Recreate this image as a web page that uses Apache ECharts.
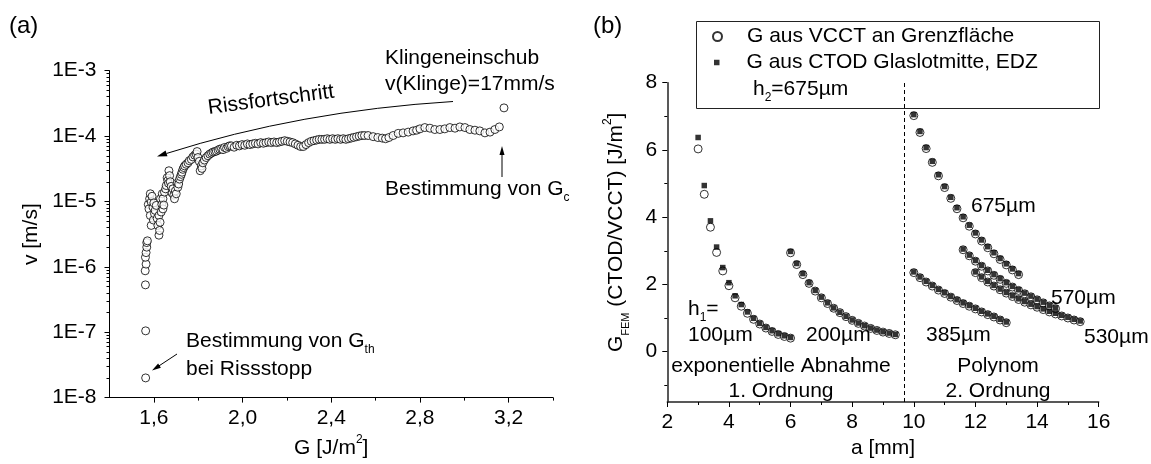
<!DOCTYPE html>
<html>
<head>
<meta charset="utf-8">
<script src="https://cdn.jsdelivr.net/npm/echarts@6/dist/echarts.min.js"></script>
<style>
  html, body { margin: 0; padding: 0; background: #fff; }
  #chart { width: 1151px; height: 464px; }
</style>
</head>
<body>
<div id="chart"></div>
<script>
// ---------- Panel (a): crack velocity v over energy release rate G ----------
const gRate = [
  1.563, 1.563, 1.562, 1.561, 1.565, 1.562, 1.565, 1.568, 1.568, 1.571,
  1.575, 1.578, 1.581, 1.584, 1.584, 1.588, 1.588, 1.592, 1.596, 1.598,
  1.600, 1.603, 1.606, 1.611, 1.615, 1.618, 1.623, 1.623, 1.626, 1.628,
  1.630, 1.633, 1.636, 1.638, 1.641, 1.641, 1.645, 1.648, 1.653, 1.656,
  1.660, 1.663, 1.666, 1.668, 1.671, 1.674, 1.678, 1.682, 1.686, 1.690,
  1.693, 1.697, 1.701, 1.705, 1.708, 1.712, 1.716, 1.720, 1.724, 1.727,
  1.731, 1.735, 1.739, 1.746, 1.754, 1.760, 1.769, 1.776, 1.784, 1.791,
  1.795, 1.799, 1.805, 1.809, 1.814, 1.817, 1.821, 1.828, 1.836, 1.844,
  1.852, 1.860, 1.867, 1.875, 1.882, 1.890, 1.897, 1.905, 1.912, 1.919,
  1.928, 1.935, 1.942,
  1.950, 1.962, 1.974, 1.986, 1.998, 2.010, 2.022, 2.034, 2.046, 2.058,
  2.070, 2.082, 2.094, 2.106, 2.118, 2.130, 2.142, 2.154, 2.166, 2.178,
  2.190, 2.202, 2.214, 2.226, 2.238, 2.250, 2.262, 2.274, 2.286, 2.298,
  2.310, 2.322, 2.334, 2.346, 2.358, 2.370, 2.382, 2.394, 2.406, 2.418,
  2.430, 2.442, 2.454, 2.466, 2.478, 2.490, 2.502, 2.514, 2.526, 2.538,
  2.550,
  2.566, 2.589, 2.610, 2.630, 2.645, 2.660, 2.679, 2.702, 2.724, 2.747,
  2.769, 2.785, 2.800, 2.822, 2.845, 2.867, 2.890, 2.912, 2.935, 2.958,
  2.980, 3.003, 3.025, 3.048, 3.070, 3.093, 3.116, 3.138, 3.158, 3.179
];
const velocity = [
  2.0e-8, 1.05e-7, 5.3e-7, 8.7e-7, 1.1e-6, 1.4e-6, 1.65e-6, 2.0e-6, 2.35e-6, 2.5e-6,
  9.0e-6, 7.7e-6, 1.10e-5, 1.31e-5, 6.1e-6, 9.8e-6, 4.3e-6, 1.2e-5, 8.2e-6, 5.2e-6,
  9.5e-6, 6.5e-6, 7.3e-6, 8.7e-6, 5.5e-6, 4.3e-6, 6.1e-6, 3.05e-6, 3.6e-6, 4.8e-6,
  1.1e-5, 6.9e-6, 9.0e-6, 1.31e-5, 7.7e-6, 1.1e-5, 8.8e-6, 1.39e-5, 1.56e-5, 1.75e-5,
  2.3e-5, 2.08e-5, 1.9e-5, 2.95e-5, 2.48e-5, 2.0e-5, 1.7e-5, 1.35e-5, 1.56e-5, 1.25e-5,
  1.1e-5, 1.45e-5, 1.31e-5, 1.9e-5, 1.65e-5, 1.85e-5, 2.2e-5, 2.4e-5, 2.6e-5, 2.8e-5,
  3.1e-5, 3.3e-5, 3.5e-5, 3.7e-5, 3.9e-5, 4.2e-5, 4.4e-5, 4.8e-5, 5.1e-5, 5.3e-5,
  5.8e-5, 4.7e-5, 4.1e-5, 2.95e-5, 3.5e-5, 3.2e-5, 3.9e-5, 4.3e-5, 4.7e-5, 5.0e-5,
  5.3e-5, 5.5e-5, 5.7e-5, 5.8e-5, 5.9e-5, 6.1e-5, 6.3e-5, 6.4e-5, 6.2e-5, 6.7e-5,
  6.5e-5, 6.9e-5, 7.1e-5,
  7.08e-5, 6.76e-5, 7.24e-5, 7.08e-5, 7.41e-5, 7.24e-5, 7.59e-5, 7.41e-5, 7.59e-5, 7.76e-5,
  7.59e-5, 7.94e-5, 7.76e-5, 7.94e-5, 8.13e-5, 7.94e-5, 8.13e-5, 7.94e-5, 8.13e-5, 8.32e-5,
  8.51e-5, 8.32e-5, 8.13e-5, 7.94e-5, 7.59e-5, 7.24e-5, 6.92e-5, 6.92e-5, 7.41e-5, 7.94e-5,
  8.32e-5, 8.51e-5, 8.71e-5, 8.91e-5, 8.91e-5, 8.91e-5, 9.12e-5, 8.91e-5, 9.12e-5, 8.91e-5,
  9.12e-5, 8.91e-5, 9.12e-5, 8.91e-5, 9.12e-5, 9.33e-5, 9.55e-5, 9.77e-5, 1.00e-4, 1.02e-4,
  1.02e-4,
  1.02e-4, 9.8e-5, 9.5e-5, 9.3e-5, 9.1e-5, 9.5e-5, 1.02e-4, 1.10e-4, 1.12e-4, 1.15e-4,
  1.20e-4, 1.23e-4, 1.29e-4, 1.35e-4, 1.32e-4, 1.26e-4, 1.26e-4, 1.29e-4, 1.35e-4, 1.32e-4,
  1.38e-4, 1.35e-4, 1.26e-4, 1.23e-4, 1.20e-4, 1.12e-4, 1.15e-4, 1.26e-4, 1.38e-4, 2.7e-4
];

// Axis ticks, panel (a)
const gLabelTicks = [1.6, 2.0, 2.4, 2.8, 3.2];
const gMinorTicks = [1.8, 2.2, 2.6, 3.0, 3.4];
const vDecadeTicks = [1e-8, 1e-7, 1e-6, 1e-5, 1e-4, 1e-3];
const vMinorTicks = [];
for (let e = -8; e < -3; e++) {
  for (let k = 2; k <= 9; k++) vMinorTicks.push(k * Math.pow(10, e));
}

// ---------- Panel (b): G_FEM over crack length a for several layer thicknesses ----------
const aH100 = [3.0, 3.2, 3.4, 3.6, 3.8, 4.0, 4.2, 4.4, 4.6, 4.8, 5.0, 5.2, 5.4, 5.6, 5.8, 6.0];
const vcctH100 = [6.03, 4.68, 3.70, 2.95, 2.40, 1.96, 1.60, 1.35, 1.14, 0.96, 0.82, 0.70, 0.60, 0.51, 0.45, 0.40];
const ctodH100 = [6.37, 4.94, 3.89, 3.11, 2.50, 2.05, 1.66, 1.40, 1.18, 0.99, 0.84, 0.72, 0.62, 0.53, 0.47, 0.42];

const aH200 = [6.0, 6.2, 6.4, 6.6, 6.8, 7.0, 7.2, 7.4, 7.6, 7.8, 8.0, 8.2, 8.4, 8.6, 8.8, 9.0, 9.2, 9.4];
const vcctH200 = [2.94, 2.59, 2.29, 2.03, 1.80, 1.60, 1.43, 1.29, 1.16, 1.04, 0.93, 0.84, 0.76, 0.69, 0.63, 0.58, 0.54, 0.50];
const ctodH200 = [2.98, 2.62, 2.32, 2.05, 1.82, 1.62, 1.45, 1.30, 1.17, 1.05, 0.94, 0.85, 0.77, 0.70, 0.64, 0.59, 0.55, 0.51];

const aH385 = [10.0, 10.2, 10.4, 10.6, 10.8, 11.0, 11.2, 11.4, 11.6, 11.8, 12.0, 12.2, 12.4, 12.6, 12.8, 13.0];
const vcctH385 = [2.35, 2.20, 2.07, 1.95, 1.83, 1.73, 1.62, 1.52, 1.43, 1.35, 1.27, 1.18, 1.10, 1.03, 0.94, 0.86];
const ctodH385 = [2.37, 2.22, 2.09, 1.97, 1.85, 1.75, 1.64, 1.54, 1.45, 1.37, 1.29, 1.20, 1.12, 1.05, 0.96, 0.88];

const aH530 = [12.0, 12.2, 12.4, 12.6, 12.8, 13.0, 13.2, 13.4, 13.6, 13.8, 14.0, 14.2, 14.4, 14.6, 14.8, 15.0, 15.2, 15.4];
const vcctH530 = [2.35, 2.20, 2.07, 1.95, 1.84, 1.74, 1.64, 1.55, 1.47, 1.39, 1.32, 1.25, 1.18, 1.12, 1.06, 1.00, 0.94, 0.89];
const ctodH530 = [2.37, 2.22, 2.09, 1.97, 1.86, 1.76, 1.66, 1.57, 1.49, 1.41, 1.34, 1.27, 1.20, 1.14, 1.08, 1.02, 0.96, 0.91];

const aH570 = [11.6, 11.8, 12.0, 12.2, 12.4, 12.6, 12.8, 13.0, 13.2, 13.4, 13.6, 13.8, 14.0, 14.2, 14.4, 14.6];
const vcctH570 = [3.03, 2.85, 2.69, 2.54, 2.40, 2.27, 2.15, 2.03, 1.92, 1.82, 1.72, 1.63, 1.54, 1.45, 1.36, 1.28];
const ctodH570 = [3.05, 2.87, 2.71, 2.56, 2.42, 2.29, 2.17, 2.05, 1.94, 1.84, 1.74, 1.65, 1.56, 1.47, 1.38, 1.30];

const aH675 = [10.0, 10.2, 10.4, 10.6, 10.8, 11.0, 11.2, 11.4, 11.6, 11.8, 12.0, 12.2, 12.4, 12.6, 12.8, 13.0, 13.2, 13.4];
const vcctH675 = [7.02, 6.52, 6.04, 5.63, 5.23, 4.88, 4.56, 4.25, 3.98, 3.73, 3.50, 3.29, 3.09, 2.91, 2.74, 2.58, 2.43, 2.29];
const ctodH675 = [7.05, 6.55, 6.07, 5.66, 5.26, 4.91, 4.59, 4.28, 4.01, 3.76, 3.53, 3.32, 3.12, 2.94, 2.77, 2.61, 2.46, 2.32];

// boundary between the two fit regimes (mm)
const regimeBoundary = 9.7;

// Axis ticks, panel (b)
const aMinorTicks = [3, 5, 7, 9, 11, 13, 15];
const gFemLabelTicks = [0, 2, 4, 6, 8];
const gFemMinorTicks = [-1, 1, 3, 5, 7];

const NAME_VCCT = 'G aus VCCT an Grenzfläche';
const NAME_CTOD = 'G aus CTOD Glaslotmitte, EDZ';

const FONT = '"Liberation Sans", Arial, Helvetica, sans-serif';
const FS = 21;
const BLACK = '#000';

function pairs(xs, ys) { return xs.map((x, i) => [x, ys[i]]); }

const chart = echarts.init(document.getElementById('chart'), null, { renderer: 'canvas' });

const labelStyle = { color: BLACK, fontSize: FS, fontFamily: FONT };
const axisRich = {
  t: { fontSize: FS, fontFamily: FONT, color: BLACK, lineHeight: 30 },
  sup: { fontSize: 12, fontFamily: FONT, color: BLACK, verticalAlign: 'top', lineHeight: 14 },
  sub: { fontSize: 11, fontFamily: FONT, color: BLACK, verticalAlign: 'bottom', lineHeight: 12 }
};

function tickAxis(base) {
  return Object.assign({
    splitLine: { show: false },
    axisLine: { onZero: false, lineStyle: { color: BLACK, width: 1 } },
  }, base);
}

// grids (pixel layout)
const gridA = { left: 109.5, top: 70.7, width: 443.5, height: 330.5 };
const gridB = { left: 667.3, top: 82.7, width: 431.4, height: 319.6 };

const xAxes = [
  tickAxis({
    gridIndex: 0, type: 'value', min: 1.4, max: 3.4,
    axisTick: { customValues: gLabelTicks, length: 5, lineStyle: { color: BLACK } },
    axisLabel: Object.assign({ customValues: gLabelTicks, margin: 10,
      formatter: v => v.toFixed(1).replace('.', ',') }, labelStyle),
    name: '{t|G [J/m}{sup|2}{t|]}', nameLocation: 'middle', nameGap: 34,
    nameTextStyle: { rich: axisRich }
  }),
  tickAxis({
    gridIndex: 0, type: 'value', min: 1.4, max: 3.4, position: 'bottom',
    axisLine: { show: false, onZero: false },
    axisTick: { customValues: gMinorTicks, length: 3, lineStyle: { color: BLACK } },
    axisLabel: { show: false }
  }),
  tickAxis({
    gridIndex: 1, type: 'value', min: 2, max: 16, interval: 2,
    axisLine: { onZero: false, lineStyle: { color: '#222', width: 1.5 } },
    axisTick: { length: 5, lineStyle: { color: BLACK } },
    axisLabel: Object.assign({ margin: 10 }, labelStyle),
    name: 'a [mm]', nameLocation: 'middle', nameGap: 36,
    nameTextStyle: labelStyle
  }),
  tickAxis({
    gridIndex: 1, type: 'value', min: 2, max: 16, position: 'bottom',
    axisLine: { show: false, onZero: false },
    axisTick: { customValues: aMinorTicks, length: 3, lineStyle: { color: BLACK } },
    axisLabel: { show: false }
  })
];

const yAxes = [
  tickAxis({
    gridIndex: 0, type: 'log', logBase: 10, min: 1e-8, max: 1e-3, position: 'left',
    axisTick: { customValues: vDecadeTicks, length: 5, lineStyle: { color: BLACK } },
    axisLabel: Object.assign({ customValues: vDecadeTicks, margin: 13,
      formatter: v => '1E' + Math.round(Math.log10(v)) }, labelStyle),
    name: 'v [m/s]', nameLocation: 'middle', nameGap: 68, nameRotate: 90,
    nameTextStyle: labelStyle
  }),
  tickAxis({
    gridIndex: 0, type: 'log', logBase: 10, min: 1e-8, max: 1e-3, position: 'left',
    axisLine: { show: false, onZero: false },
    axisTick: { customValues: vMinorTicks, length: 3, lineStyle: { color: BLACK } },
    axisLabel: { show: false }
  }),
  tickAxis({
    gridIndex: 1, type: 'value', min: -1.5, max: 8, position: 'left',
    axisLine: { onZero: false, lineStyle: { color: '#222', width: 1.5 } },
    axisTick: { customValues: gFemLabelTicks, length: 5, lineStyle: { color: BLACK } },
    axisLabel: Object.assign({ customValues: gFemLabelTicks, margin: 10 }, labelStyle),
    name: '{t|G}{sub|FEM}{t| (CTOD/VCCT) [J/m}{sup|2}{t|]}',
    nameLocation: 'middle', nameGap: 36, nameRotate: 90,
    nameTextStyle: { rich: axisRich, padding: [0, 0, 0, 20] }
  }),
  tickAxis({
    gridIndex: 1, type: 'value', min: -1.5, max: 8, position: 'left',
    axisLine: { show: false, onZero: false },
    axisTick: { customValues: gFemMinorTicks, length: 3, lineStyle: { color: BLACK } },
    axisLabel: { show: false }
  })
];

const openCircle = { color: '#fff', borderColor: BLACK, borderWidth: 1 };

function femSeries(name, a, g, isCtod) {
  return {
    name, type: 'scatter', xAxisIndex: 2, yAxisIndex: 2,
    symbol: isCtod ? 'rect' : 'circle',
    symbolSize: isCtod ? 5.5 : 8,
    itemStyle: isCtod ? { color: BLACK } : openCircle,
    data: pairs(a, g), silent: true
  };
}

const series = [
  {
    name: 'v(G)', type: 'scatter', xAxisIndex: 0, yAxisIndex: 0,
    symbol: 'circle', symbolSize: 8, itemStyle: openCircle,
    data: pairs(gRate, velocity), silent: true
  },
  Object.assign(femSeries(NAME_VCCT, aH100, vcctH100, false), {
    markLine: {
      silent: true, symbol: ['none', 'none'], label: { show: false },
      lineStyle: { color: BLACK, width: 1, type: [4, 3] },
      data: [{ xAxis: regimeBoundary }]
    }
  }),
  femSeries(NAME_VCCT, aH200, vcctH200, false),
  femSeries(NAME_VCCT, aH385, vcctH385, false),
  femSeries(NAME_VCCT, aH530, vcctH530, false),
  femSeries(NAME_VCCT, aH570, vcctH570, false),
  femSeries(NAME_VCCT, aH675, vcctH675, false),
  femSeries(NAME_CTOD, aH100, ctodH100, true),
  femSeries(NAME_CTOD, aH200, ctodH200, true),
  femSeries(NAME_CTOD, aH385, ctodH385, true),
  femSeries(NAME_CTOD, aH530, ctodH530, true),
  femSeries(NAME_CTOD, aH570, ctodH570, true),
  femSeries(NAME_CTOD, aH675, ctodH675, true)
];

// ---------- annotations ----------
const textRich = {
  t: { fontSize: FS, fontFamily: FONT, fill: BLACK, lineHeight: 30 },
  sub: { fontSize: 12, fontFamily: FONT, fill: BLACK, verticalAlign: 'bottom', lineHeight: 12 }
};
function text(x, y, str, opts) {
  opts = opts || {};
  return {
    type: 'text', x, y, z: 20, rotation: opts.rotation || 0, silent: true,
    style: {
      text: str, fill: BLACK,
      font: (opts.size || FS) + 'px ' + FONT,
      textAlign: opts.align || 'left', textVerticalAlign: 'middle',
      rich: opts.rich
    }
  };
}
function arrow(x1, y1, x2, y2, len, half) {
  const dx = x2 - x1, dy = y2 - y1, d = Math.hypot(dx, dy);
  const ux = dx / d, uy = dy / d;
  const bx = x2 - ux * len, by = y2 - uy * len;
  return [
    { type: 'line', z: 20, silent: true, shape: { x1, y1, x2: bx + ux * 2, y2: by + uy * 2 },
      style: { stroke: BLACK, lineWidth: 1 } },
    { type: 'polygon', z: 20, silent: true,
      shape: { points: [[x2, y2], [bx - uy * half, by + ux * half], [bx + uy * half, by - ux * half]] },
      style: { fill: BLACK } }
  ];
}
// curved arrow along the crack growth direction
const curveStart = [453, 101.5], curveCtrl = [300, 111], curveTip = [157, 156.5];
const tipDir = [curveTip[0] - curveCtrl[0], curveTip[1] - curveCtrl[1]];
const tipLen = Math.hypot(tipDir[0], tipDir[1]);
const tu = [tipDir[0] / tipLen, tipDir[1] / tipLen];
const headBase = [curveTip[0] - tu[0] * 10, curveTip[1] - tu[1] * 10];

const graphics = [
  text(9, 26, '(a)', { size: 24 }),
  text(593, 26, '(b)', { size: 24 }),
  text(385, 58, 'Klingeneinschub'),
  text(385, 84, 'v(Klinge)=17mm/s'),
  text(271, 100, 'Rissfortschritt', { align: 'center', rotation: 0.13 }),
  { type: 'bezierCurve', z: 20, silent: true,
    shape: { x1: curveStart[0], y1: curveStart[1], cpx1: curveCtrl[0], cpy1: curveCtrl[1],
      x2: headBase[0], y2: headBase[1] },
    style: { stroke: BLACK, lineWidth: 1, fill: null } },
  { type: 'polygon', z: 20, silent: true,
    shape: { points: [curveTip,
      [headBase[0] - tu[1] * 3, headBase[1] + tu[0] * 3],
      [headBase[0] + tu[1] * 3, headBase[1] - tu[0] * 3]] },
    style: { fill: BLACK } },
  text(385, 189, '{t|Bestimmung von G}{sub|c}', { rich: textRich }),
  ...arrow(502, 177, 502, 146, 9, 2.5),
  text(186, 341, '{t|Bestimmung von G}{sub|th}', { rich: textRich }),
  text(186, 369, 'bei Rissstopp'),
  ...arrow(177, 354, 152, 370.5, 9, 2.5),

  // legend frame (panel b)
  { type: 'rect', z: 3, silent: true,
    shape: { x: 696.5, y: 21.5, width: 403, height: 87 },
    style: { fill: '#fff', stroke: '#222', lineWidth: 1 } },
  text(753, 89, '{t|h}{sub|2}{t|=675µm}', { rich: textRich }),

  text(971, 206, '675µm'),
  text(1051, 298, '570µm'),
  text(1084, 337, '530µm'),
  text(926, 335, '385µm'),
  text(806, 335, '200µm'),
  text(688, 335, '100µm'),
  text(688, 309, '{t|h}{sub|1}{t|=}', { rich: textRich }),
  text(781, 366, 'exponentielle Abnahme', { align: 'center' }),
  text(781, 391, '1. Ordnung', { align: 'center' }),
  text(998, 366, 'Polynom', { align: 'center' }),
  text(998, 391, '2. Ordnung', { align: 'center' })
];

const legendText = { color: BLACK, fontSize: FS, fontFamily: FONT };

chart.setOption({
  animation: false,
  backgroundColor: '#fff',
  grid: [gridA, gridB],
  xAxis: xAxes,
  yAxis: yAxes,
  legend: [
    { data: [NAME_VCCT], left: 712, top: 26, orient: 'vertical', z: 10,
      itemWidth: 9, itemHeight: 9, padding: 0, selectedMode: false,
      textStyle: Object.assign({ padding: [0, 0, 0, 20] }, legendText) },
    { data: [NAME_CTOD], left: 714, top: 52, orient: 'vertical', z: 10,
      itemWidth: 5.5, itemHeight: 5.5, padding: 0, selectedMode: false,
      textStyle: Object.assign({ padding: [0, 0, 0, 22] }, legendText) }
  ],
  series,
  graphic: graphics
});
</script>
</body>
</html>
